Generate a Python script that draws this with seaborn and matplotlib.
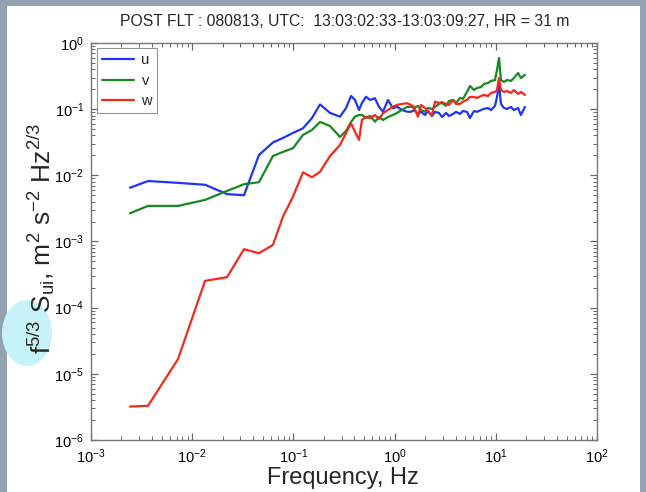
import numpy as np
import pandas as pd
import matplotlib
matplotlib.use("Agg")
import matplotlib.pyplot as plt
import seaborn as sns
from matplotlib.patches import Rectangle, Ellipse
from matplotlib.ticker import LogLocator, NullFormatter, FixedLocator

# ---------------- data ----------------
freq = [0.00243, 0.00366, 0.00724, 0.0134, 0.0221, 0.0325, 0.0457, 0.0628, 0.0789, 0.0991,
        0.1244, 0.1527, 0.1832, 0.230, 0.289, 0.331, 0.371, 0.406, 0.445, 0.476,
        0.521, 0.571, 0.640, 0.701, 0.768, 0.861, 0.964, 1.057, 1.18, 1.33,
        1.45, 1.56, 1.70, 1.82, 2.00, 2.14, 2.34, 2.51, 2.75, 2.94,
        3.22, 3.45, 3.78, 4.05, 4.43, 4.74, 5.19, 5.56, 6.09, 6.52,
        7.14, 7.64, 8.37, 8.97, 9.82, 10.28, 10.76, 11.25, 12.05, 12.9,
        14.1, 15.1, 16.6, 17.7, 19.4]

u_vals = [0.0065, 0.0082, 0.0077, 0.0072, 0.0052, 0.0050, 0.0203, 0.0314, 0.0367, 0.0437,
          0.0514, 0.0736, 0.118, 0.0877, 0.0771, 0.104, 0.158, 0.138, 0.0973, 0.124,
          0.154, 0.138, 0.146, 0.108, 0.0917, 0.138, 0.103, 0.109, 0.0973, 0.0917,
          0.091, 0.097, 0.0846, 0.091, 0.0817, 0.094, 0.0789, 0.091, 0.0877, 0.0762,
          0.0877, 0.0789, 0.0846, 0.091, 0.0846, 0.094, 0.091, 0.0736, 0.094, 0.091,
          0.097, 0.101, 0.104, 0.097, 0.112, 0.153, 0.240, 0.120, 0.104, 0.101,
          0.108, 0.097, 0.104, 0.0817, 0.108]

v_vals = [0.00267, 0.00345, 0.00345, 0.00425, 0.00581, 0.00734, 0.00787, 0.0196, 0.0226, 0.0257,
          0.0408, 0.0485, 0.0641, 0.0557, 0.038, 0.0469, 0.0641, 0.0771, 0.0817, 0.0817,
          0.0736, 0.0789, 0.0647, 0.0762, 0.0687, 0.0762, 0.0817, 0.0877, 0.0973, 0.108,
          0.109, 0.104, 0.112, 0.097, 0.091, 0.104, 0.101, 0.108, 0.120, 0.124,
          0.112, 0.133, 0.138, 0.124, 0.148, 0.143, 0.182, 0.224, 0.195, 0.209,
          0.216, 0.240, 0.249, 0.267, 0.276, 0.391, 0.593, 0.276, 0.258, 0.276,
          0.267, 0.296, 0.352, 0.296, 0.329]

w_vals = [3.2e-6, 3.29e-6, 1.67e-5, 2.54e-4, 2.89e-4, 7.66e-4, 6.65e-4, 8.89e-4, 2.38e-3, 4.77e-3,
          0.0111, 0.00936, 0.0113, 0.0196, 0.0288, 0.0433, 0.0612, 0.0457, 0.0343, 0.0687,
          0.0771, 0.0729, 0.0817, 0.0711, 0.0867, 0.0973, 0.109, 0.116, 0.120, 0.123,
          0.116, 0.108, 0.0771, 0.116, 0.104, 0.091, 0.0817, 0.130, 0.124, 0.128,
          0.120, 0.116, 0.138, 0.120, 0.120, 0.130, 0.138, 0.153, 0.153, 0.148,
          0.158, 0.164, 0.158, 0.176, 0.182, 0.195, 0.296, 0.195, 0.182, 0.188,
          0.176, 0.195, 0.170, 0.182, 0.164]

series_names = ["u", "v", "w"]
series_colors = ["#1f35f0", "#17891f", "#f5281c"]
title_text = "POST FLT : 080813, UTC:  13:03:02:33-13:03:09:27, HR = 31 m"
x_label = "Frequency, Hz"
y_label = r"f$^{5/3}$ S$_{ui}$, m$^2$ s$^{-2}$ Hz$^{2/3}$"

# ---------------- build table ----------------
df = pd.concat([
    pd.DataFrame({"freq": freq, "S": u_vals, "comp": "u"}),
    pd.DataFrame({"freq": freq, "S": v_vals, "comp": "v"}),
    pd.DataFrame({"freq": freq, "S": w_vals, "comp": "w"}),
], ignore_index=True)

sns.set_theme(style="white")
plt.rcParams["font.family"] = ["Liberation Sans", "DejaVu Sans"]
plt.rcParams["mathtext.fontset"] = "custom"
plt.rcParams["mathtext.rm"] = "Liberation Sans"
plt.rcParams["mathtext.it"] = "Liberation Sans"
plt.rcParams["mathtext.bf"] = "Liberation Sans:bold"

W, H = 646, 492
fig = plt.figure(figsize=(W / 100, H / 100), dpi=100, facecolor="#93a1b1")
# white slide panel
fig.patches.append(Rectangle((7 / W, 0), (640 - 7) / W, 1 - 6 / H, transform=fig.transFigure,
                             facecolor="white", edgecolor="none", zorder=-10))
# cyan highlight ellipse
fig.patches.append(Ellipse((27 / W, 1 - 333 / H), 50 / W, 66 / H, transform=fig.transFigure,
                           facecolor="#c6f3f7", edgecolor="none", zorder=-9))

ax = fig.add_axes([91 / W, 1 - 440 / H, (597 - 91) / W, (440 - 43) / H])
ax.set_zorder(5)
ax.set_facecolor("white")

sns.lineplot(data=df, x="freq", y="S", hue="comp", palette=series_colors,
             hue_order=series_names, estimator=None, sort=False, linewidth=1.6, ax=ax)

ax.set_xscale("log")
ax.set_yscale("log")
ax.set_xlim(1e-3, 1e2)
ax.set_ylim(1e-6, 1e0)

xt = [10.0 ** k for k in range(-3, 3)]
yt = [10.0 ** k for k in range(-6, 1)]
ax.xaxis.set_major_locator(FixedLocator(xt))
ax.yaxis.set_major_locator(FixedLocator(yt))
ax.set_xticklabels([r"$10^{%d}$" % k for k in range(-3, 3)])
ax.set_yticklabels([r"$10^{%d}$" % k for k in range(-6, 1)])
ax.xaxis.set_minor_locator(LogLocator(base=10, subs=np.arange(2, 10), numticks=20))
ax.yaxis.set_minor_locator(LogLocator(base=10, subs=np.arange(2, 10), numticks=20))
ax.xaxis.set_minor_formatter(NullFormatter())
ax.yaxis.set_minor_formatter(NullFormatter())
ax.tick_params(which="both", direction="in", bottom=True, left=True, top=True, right=True,
               colors="#666666", labelcolor="black", labelsize=10.5)
ax.tick_params(which="major", length=5, width=0.9, pad=5)
ax.tick_params(which="minor", length=3, width=0.7)
for s in ax.spines.values():
    s.set_color("#777777")
    s.set_linewidth(1.0)

ax.set_xlabel("")
ax.set_ylabel("")
fig.text(343 / W, 1 - 478 / H, x_label, ha="center", va="center", fontsize=17)
fig.text(41 / W, 1 - 238 / H, y_label, ha="center", va="center", rotation=90, fontsize=19)
fig.text(345 / W, 1 - 21 / H, title_text, ha="center", va="center", fontsize=11.3)

leg = ax.legend(loc="upper left", bbox_to_anchor=(6 / 506, 1 - 5 / 397), borderaxespad=0,
                fontsize=10.5, handlelength=2.2, labelspacing=0.45, frameon=True,
                fancybox=False, borderpad=0.35, handletextpad=0.5)
leg.get_frame().set_edgecolor("#777777")
leg.get_frame().set_linewidth(0.8)
for line in leg.get_lines():
    line.set_linewidth(1.6)

fig.savefig("out.png", dpi=100, facecolor=fig.get_facecolor())
